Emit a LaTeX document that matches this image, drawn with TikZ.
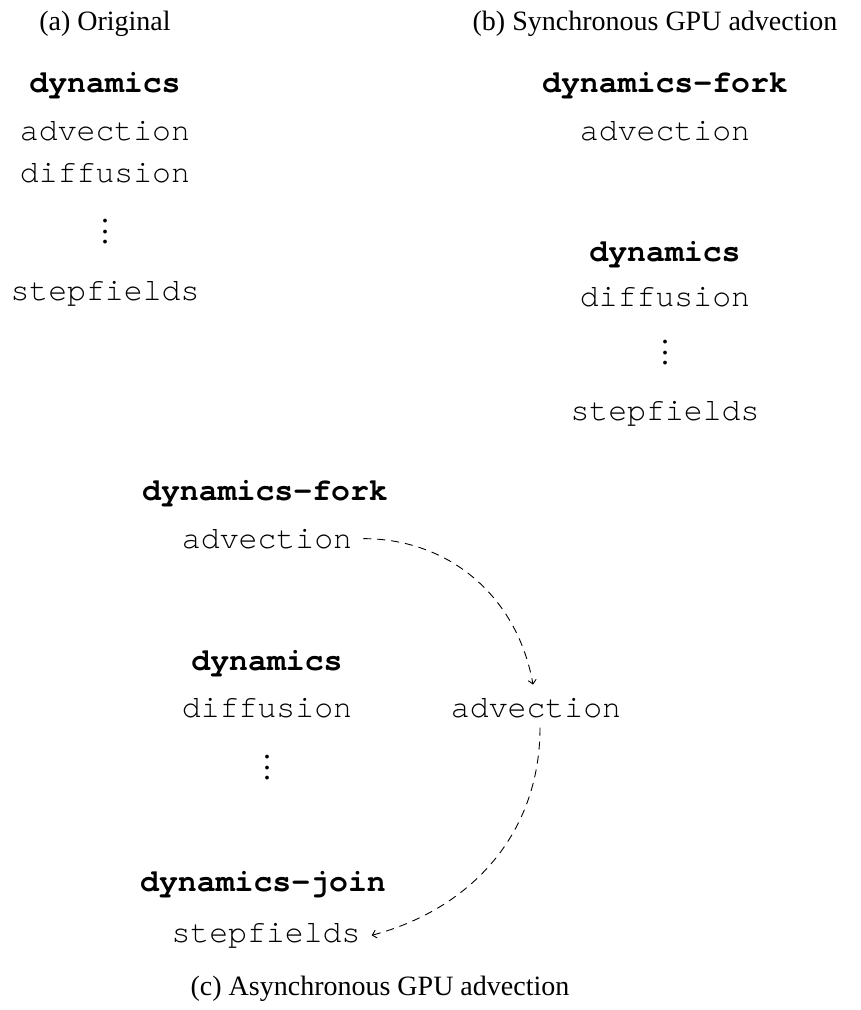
\documentclass[tikz,border=0pt]{standalone}
\usepackage{fontspec}
\setmainfont{Liberation Serif}
\setmonofont{texgyrecursor}[Extension=.otf, UprightFont=*-regular, BoldFont=*-bold, Ligatures={NoCommon,TeXOff}]
\usetikzlibrary{arrows.meta}
\newcommand{\myvdots}{\vbox{\baselineskip=10.5pt\lineskiplimit=0pt\hbox{.}\hbox{.}\hbox{.}}}
\tikzset{
  code/.style={inner sep=0pt, anchor=base, font=\fontsize{31.5}{36}\selectfont\ttfamily},
  codeb/.style={code, font=\fontsize{31.5}{36}\selectfont\ttfamily\bfseries},
  captbig/.style={inner sep=0pt, anchor=base, font=\fontsize{28}{32}\selectfont},
  dotsnode/.style={inner sep=0pt, anchor=center, font=\fontsize{32}{32}\selectfont},
  arr/.style={-{Straight Barb[length=4pt,width=8pt]}, line width=0.9pt, dash pattern=on 8pt off 6pt}
}
\begin{document}
\begin{tikzpicture}[x=1pt,y=-1pt]
\useasboundingbox (0,0) rectangle (861,1010);
% (a)
\node[captbig] (capA) at (105,30) {(a) Original};
\node[codeb] (dynA) at (105,92) {dynamics};
\node[code] (advA) at (105,140) {advection};
\node[code] (difA) at (105,182) {diffusion};
\node[dotsnode] (dotsA) at (105,232) {\myvdots};
\node[code] (stpA) at (105,300) {stepfields};
% (b)
\node[captbig] (capB) at (655,30) {(b) Synchronous GPU advection};
\node[codeb] (forkB) at (665,92) {dynamics-fork};
\node[code] (advB) at (665,140) {advection};
\node[codeb] (dynB) at (665,261) {dynamics};
\node[code] (difB) at (665,306) {diffusion};
\node[dotsnode] (dotsB) at (665,353) {\myvdots};
\node[code] (stpB) at (665,420) {stepfields};
% (c)
\node[codeb] (forkC) at (265,500) {dynamics-fork};
\node[code] (advC) at (267,548) {advection};
\node[codeb] (dynC) at (267,670) {dynamics};
\node[code] (difC) at (267,717) {diffusion};
\node[code] (advR) at (536,717) {advection};
\node[dotsnode] (dotsC) at (267,768) {\myvdots};
\node[codeb] (joinC) at (263,891) {dynamics-join};
\node[code] (stpC) at (266,942) {stepfields};
\node[captbig] (capC) at (380,995) {(c) Asynchronous GPU advection};
% arrows
\draw[arr] ([xshift=11pt]advC.east) to[out=0,in=100] ([xshift=-3pt,yshift=13pt]advR.north);
\draw[arr] ([xshift=4pt,yshift=-10pt]advR.south) to[out=-90,in=15] ([xshift=11pt]stpC.east);
\end{tikzpicture}
\end{document}
